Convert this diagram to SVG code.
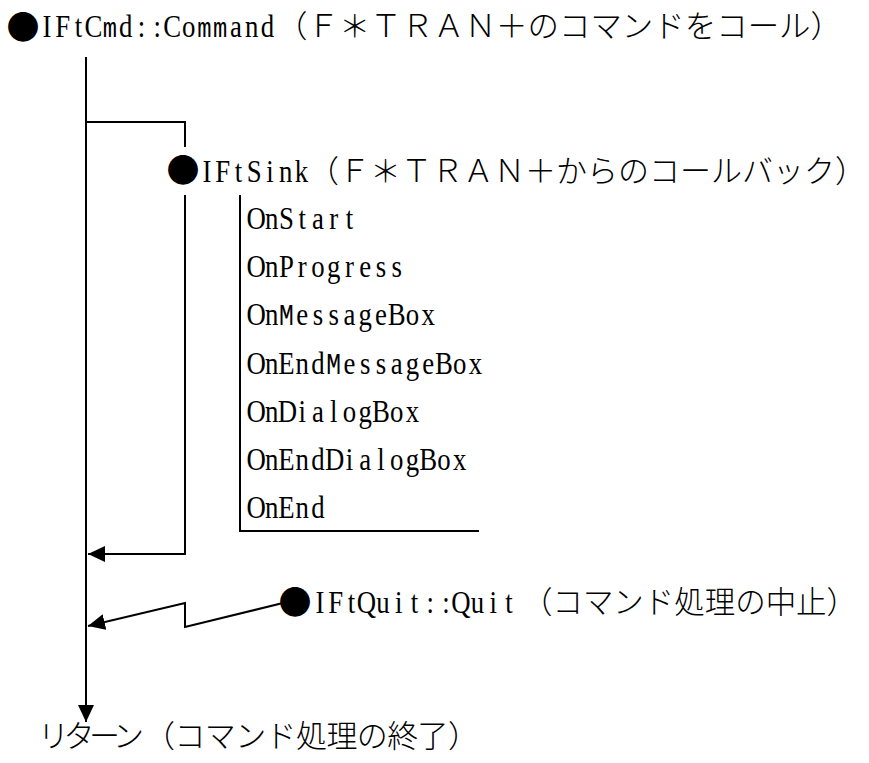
<svg xmlns="http://www.w3.org/2000/svg" width="869" height="763" viewBox="0 0 869 763">
<style>
.lat{font-family:"Liberation Serif",serif;font-size:31.5px;fill:#000}
.m{font-family:"Liberation Mono",monospace;font-size:28px;fill:#000}
.M{font-family:"Liberation Mono",monospace;font-size:29px;fill:#000}
.jp{font-family:"Noto Sans CJK JP",sans-serif;font-size:31px;font-weight:300;fill:#000}
.dot{font-family:"Noto Sans CJK JP",sans-serif;font-size:33px;fill:#000}
.ln{fill:none;stroke:#000;stroke-width:2}
</style>
<defs>
<marker id="arr" markerUnits="userSpaceOnUse" markerWidth="18" markerHeight="16" refX="17" refY="8" orient="auto">
<path d="M0,0 L17,8 L0,16 Z" fill="#000"/>
</marker>
</defs>
<rect width="869" height="763" fill="#fff"/>
<g id="connectors">
<line class="ln" x1="86" y1="57" x2="86" y2="722" marker-end="url(#arr)"/>
<polyline class="ln" points="86,122 185,122 185,147"/>
<polyline class="ln" points="185,195 185,554 88,554" marker-end="url(#arr)"/>
<polyline class="ln" points="240,195 240,531 479,531"/>
<polyline class="ln" points="283,603 185,627 185,603 88,626" marker-end="url(#arr)"/>
</g>
<g id="node-command">
<text transform="scale(0.85,1)" y="37"><tspan class="dot" x="7.65" y="39" textLength="38.82" lengthAdjust="spacingAndGlyphs">●</tspan><tspan class="lat" x="49.89 64.93 87.83 99.47" y="37">IFtC</tspan><tspan class="m" x="120.87">m</tspan><tspan class="lat" x="139.92 161.95 180.48 192.12 214.04">d::Co</tspan><tspan class="m" x="232.05 250.58">mm</tspan><tspan class="lat" x="270.5 288.16 306.69">and</tspan><tspan class="jp" x="324.71" textLength="665.88" lengthAdjust="spacingAndGlyphs">（Ｆ＊ＴＲＡＮ＋のコマンドをコール）</tspan></text>
</g>
<g id="node-sink">
<text transform="scale(0.85,1)" y="182"><tspan class="dot" x="195.88" textLength="38.82" lengthAdjust="spacingAndGlyphs">●</tspan><tspan class="lat" x="238.13 253.17 276.07 290.23 313.13 328.16 346.69">IFtSink</tspan><tspan class="jp" x="362.35" textLength="656.47" lengthAdjust="spacingAndGlyphs">（Ｆ＊ＴＲＡＮ＋からのコールバック）</tspan></text>
</g>
<g id="node-callbacks" transform="scale(0.85,1)">
<text class="lat" y="229" x="290 311.7 328.17 351.07 366.97 387.25 406.66">OnStart</text>
<text class="lat" y="277" x="290 311.7 328.17 350.19 366.1 384.63 405.78 422.56 441.97 460.5">OnProgress</text>
<text class="lat" y="325"><tspan x="290 311.7">On</tspan><tspan class="M" x="328.22">M</tspan><tspan x="348.44 367.85 386.38 404.03 421.69 441.09 456.12 477.28 495.81">essageBox</tspan></text>
<text class="lat" y="374"><tspan x="290 311.7 327.29 347.57 366.1">OnEnd</tspan><tspan class="M" x="383.81">M</tspan><tspan x="404.03 423.44 441.97 459.62 477.28 496.68 511.71 532.87 551.4">essageBox</tspan></text>
<text class="lat" y="422" x="290 311.7 326.65 351.07 366.97 388.13 403.16 421.69 437.59 458.75 477.28">OnDialogBox</text>
<text class="lat" y="470" x="290 311.7 327.29 347.57 366.1 382.24 406.66 422.56 443.72 458.75 477.28 493.18 514.34 532.87">OnEndDialogBox</text>
<text class="lat" y="518" x="290 311.7 327.29 347.57 366.1">OnEnd</text>
</g>
<g id="node-quit">
<text transform="scale(0.85,1)" y="613"><tspan class="dot" x="327.65" y="614" textLength="38.82" lengthAdjust="spacingAndGlyphs">●</tspan><tspan class="lat" x="371.07 386.11 409.01 419.65 442.57 464.6 483.13 501.66 520.19 530.83 553.75 575.78 594.31" y="613">IFtQuit::Quit</tspan><tspan class="jp" x="614.12" textLength="394.12" lengthAdjust="spacingAndGlyphs">（コマンド処理の中止）</tspan></text>
</g>
<g id="node-return">
<text y="747"><tspan class="jp" x="38" textLength="106">リターン</tspan><tspan class="jp" x="144" textLength="335">（コマンド処理の終了）</tspan></text>
</g>
</svg>
